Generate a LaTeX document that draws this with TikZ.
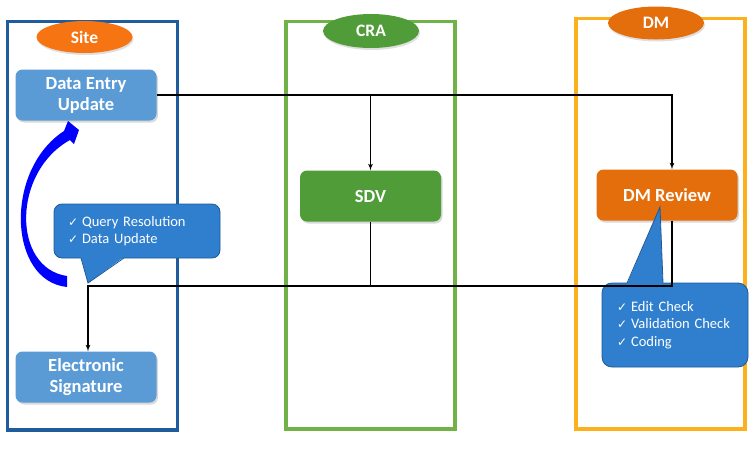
\documentclass[tikz,border=0pt]{standalone}
\usepackage{fontspec}
\setmainfont{Carlito}
\newfontfamily\chkfont{DejaVu Sans}
\usetikzlibrary{shapes.geometric,shadows,arrows}

\definecolor{siteblue}{RGB}{31,92,158}
\definecolor{boxblue}{RGB}{91,155,213}
\definecolor{siteorange}{RGB}{246,116,18}
\definecolor{cragreen}{RGB}{112,178,72}
\definecolor{sdvgreen}{RGB}{80,156,56}
\definecolor{dmgold}{RGB}{252,176,28}
\definecolor{dmorange}{RGB}{228,110,12}
\definecolor{callblue}{RGB}{47,127,206}
\definecolor{calledge}{RGB}{30,88,150}

\newcommand{\chk}{{\chkfont\fontsize{12}{17}\selectfont ✓}\hspace{4pt}}

\tikzstyle{line} = [draw, -latex', line width=1.2pt]
\tikzstyle{lane} = [line width=3.2pt]
\tikzstyle{tag} = [ellipse, inner sep=0pt, minimum width=96pt, minimum height=32pt, text=white, font=\bfseries\fontsize{17.5}{19}\selectfont, drop shadow={opacity=0.25, shadow xshift=1pt, shadow yshift=-2pt}]
\tikzstyle{task} = [rectangle, rounded corners=7pt, minimum width=141pt, minimum height=51pt, align=center, text=white, font=\bfseries\fontsize{18.5}{21}\selectfont, drop shadow={opacity=0.3, shadow xshift=1.5pt, shadow yshift=-2pt}]
\tikzstyle{note} = [rectangle, rounded corners=8pt, fill=callblue, draw=calledge, line width=0.8pt, text=white, align=left, font=\fontsize{14.5}{17.5}\selectfont]

\begin{document}
\begin{tikzpicture}[x=1pt,y=-1pt]
		\useasboundingbox (0,0) rectangle (755,451);
		
		%lanes
		\draw[lane,color=siteblue] (7.5,21.5) rectangle (177.5,430);
		\draw[lane,color=cragreen] (286,21.5) rectangle (455,429);
		\draw[lane,color=dmgold] (576,18.5) rectangle (745,429);
		%lane titles
		\node[tag,fill=siteorange] (site) at (84.5,37) {Site};
		\node[tag,fill=sdvgreen,minimum height=34pt] (cra) at (371,31) {CRA};
		\node[tag,fill=dmorange,minimum height=33pt] (dm) at (656,23) {DM};
		
		%steps
		\node[task,fill=boxblue] (entry) at (86,95) {Data Entry\\Update};
		\node[task,fill=boxblue] (esig) at (86,377) {Electronic\\Signature};
		\node[task,fill=sdvgreen] (sdv) at (370.5,196) {SDV};
		\node[task,fill=dmorange] (dmrev) at (667,195) {DM Review};
		
		%notes
		\node[note,text width=138pt,inner xsep=14pt,minimum height=54pt] (qnote) at (137,231) {\chk Query Resolution\\\chk Data Update};
		\fill[callblue] (81,257) -- (88,283) -- (124,257) -- cycle;
		\draw[calledge,line width=0.8pt] (81,258) -- (88,283) -- (124,258);
		\node[note,rounded corners=10pt,text width=116pt,inner xsep=15pt,minimum height=84pt] (dmnote) at (675,325) {\chk Edit Check\\\chk Validation Check\\\chk Coding};
		\fill[callblue] (627,284) -- (660,207) -- (663,284) -- cycle;
		\draw[calledge,line width=0.8pt] (627,283) -- (660,207) -- (663,283);
		
		%loop back arrow
		\fill[blue] (67,287) .. controls (8,281) and (4,170) .. (64,131) -- (68,121) -- (79,130) -- (74,144) -- (70,140) .. controls (12,172) and (12,268) .. (67,276) -- cycle;
		
		%flow
		\coordinate (join) at (88,286);
		\draw[line] (entry.east) -| ([xshift=5pt]dmrev.north);
		\draw[line] (entry.east -| sdv.north) -- (sdv.north);
		\draw[line width=1.2pt] (sdv.south) -- (sdv.south |- join);
		\draw[line] ([xshift=5pt]dmrev.south) |- (join) -- (join |- esig.north);
		\end{tikzpicture}
\end{document}
